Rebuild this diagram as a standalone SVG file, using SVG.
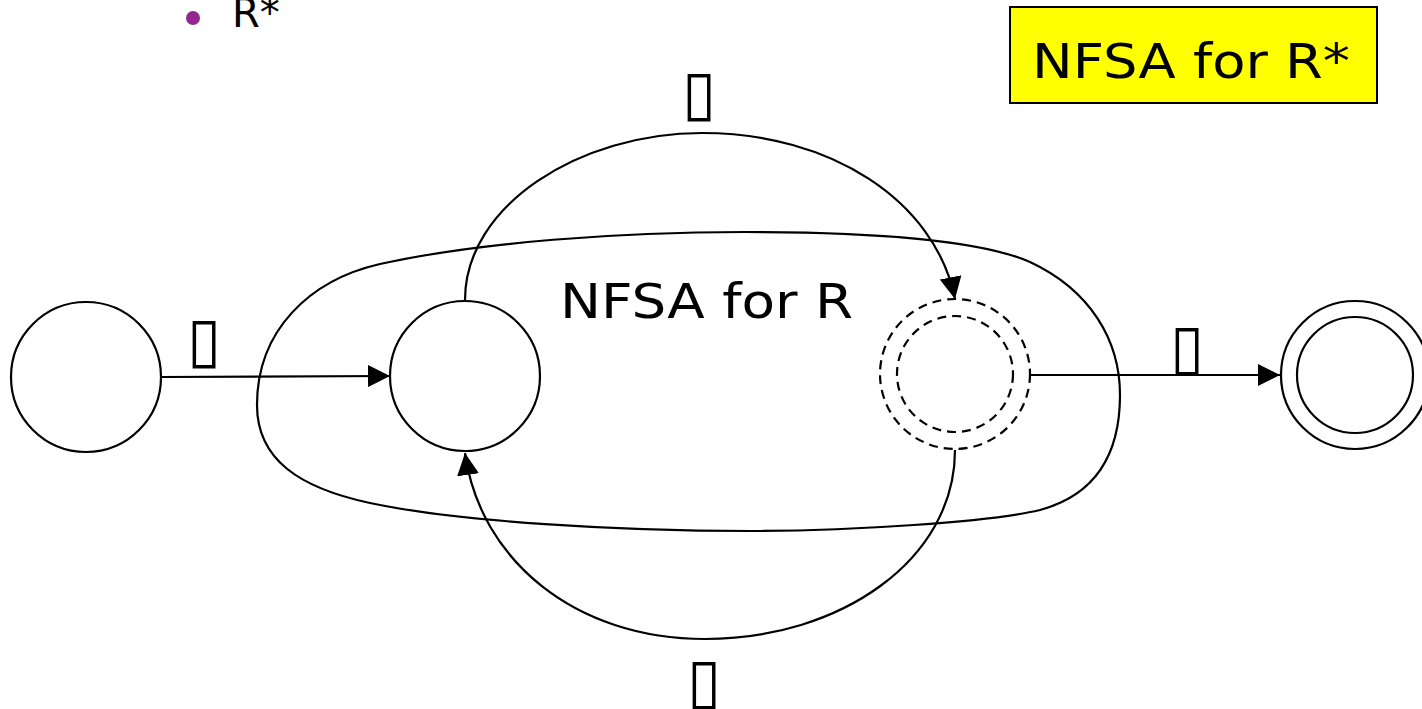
<svg xmlns="http://www.w3.org/2000/svg" width="1422" height="709" viewBox="0 0 1422 709">
  <defs>
    <style>
      .state { fill: none; stroke: #000; stroke-width: 2.2; }
      .dashed { fill: none; stroke: #000; stroke-width: 2.2; stroke-dasharray: 9 6; }
      .edge { fill: none; stroke: #000; stroke-width: 2.2; }
      .title { font-family: "Comic Sans MS", "DejaVu Sans", sans-serif; font-size: 48px; fill: #000; }
      .eps { font-family: "DejaVu Sans", sans-serif; font-size: 62px; fill: #000; text-anchor: middle; }
    </style>
    <marker id="arrowBig" viewBox="0 0 10 10" refX="10" refY="5" markerWidth="22" markerHeight="22" markerUnits="userSpaceOnUse" orient="auto">
      <path d="M0,0 L10,5 L0,10 Z" fill="#000"/>
    </marker>
  </defs>

  <!-- bullet line -->
  <g id="bullet">
    <circle cx="193" cy="18" r="7" fill="#92278F"/>
    <text x="232" y="27" font-family="'Comic Sans MS', 'DejaVu Sans', sans-serif" font-size="40">R*</text>
  </g>

  <!-- caption box -->
  <g id="caption">
    <rect x="1010" y="7" width="367" height="96" fill="#FFFF00" stroke="#000" stroke-width="2"/>
    <text class="title" x="1032" y="78" textLength="318" lengthAdjust="spacingAndGlyphs">NFSA for R*</text>
  </g>

  <!-- enclosed automaton for R -->
  <g id="nfsa-r">
    <path class="edge" d="M257,405 C257,330 310,280 380,264 C480,242 620,232 745,232 C880,232 980,240 1030,262 C1090,290 1120,340 1120,395 C1120,455 1095,495 1040,510 C990,522 850,531 750,531 C620,531 460,522 370,503 C300,488 257,460 257,405 Z"/>
    <text class="title" x="560" y="318" textLength="293" lengthAdjust="spacingAndGlyphs">NFSA for R</text>
  </g>

  <!-- states -->
  <g id="q-start">
    <circle class="state" cx="86" cy="377" r="75"/>
  </g>
  <g id="q-r-start">
    <circle class="state" cx="465" cy="376" r="75"/>
  </g>
  <g id="q-r-final">
    <circle class="dashed" cx="955" cy="374" r="75"/>
    <circle class="dashed" cx="955" cy="374" r="58"/>
  </g>
  <g id="q-final">
    <circle class="state" cx="1355" cy="375" r="74"/>
    <circle class="state" cx="1355" cy="375" r="58"/>
  </g>

  <!-- transitions -->
  <g id="connectors">
    <path class="edge" d="M162,377 L390,376" marker-end="url(#arrowBig)"/>
    <path class="edge" d="M1030,375 L1280,375" marker-end="url(#arrowBig)"/>
    <path class="edge" d="M465,300 C465,205 580,133 702,133 C830,133 935,200 955,299" marker-end="url(#arrowBig)"/>
    <path class="edge" d="M955,450 C955,560 840,639 705,639 C575,639 480,560 465,453" marker-end="url(#arrowBig)"/>
  </g>

  <!-- transition labels -->
  <g id="labels">
    <text class="eps" x="699" y="114">▯</text>
    <text class="eps" x="204" y="361">▯</text>
    <text class="eps" x="1187" y="368">▯</text>
    <text class="eps" x="704" y="702">▯</text>
  </g>
</svg>
